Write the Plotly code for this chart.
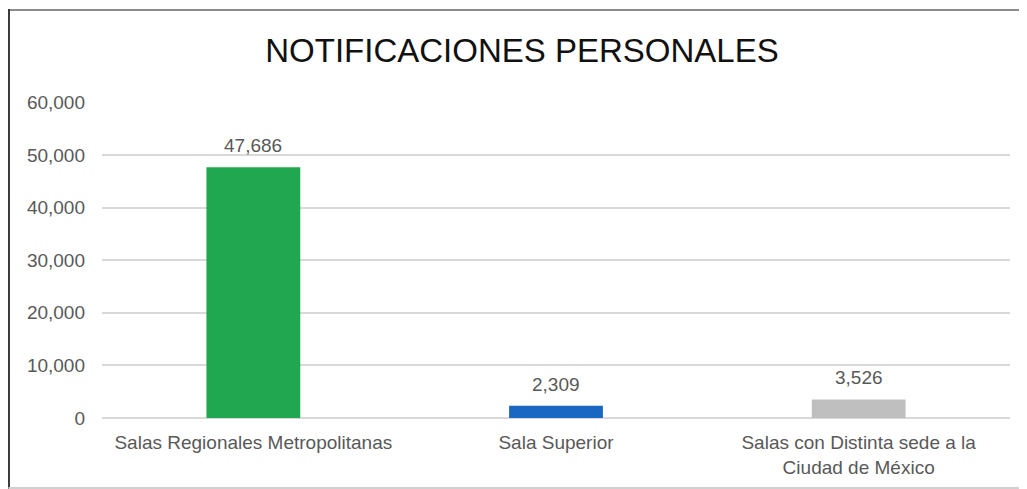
import plotly.graph_objects as go

categories = ["Salas Regionales Metropolitanas", "Sala Superior",
              "Salas con Distinta sede a la<br>Ciudad de México"]
values = [47686, 2309, 3526]
colors = ["#22A751", "#1967C1", "#BFBFBF"]
value_labels = [f"{v:,}" for v in values]
y_ticks = [0, 10000, 20000, 30000, 40000, 50000, 60000]
y_tick_labels = [f"{t:,}" for t in y_ticks]

FONT = "Liberation Sans, Arial, sans-serif"

fig = go.Figure(go.Bar(
    x=categories, y=values, marker_color=colors, marker_line_width=0,
    hoverinfo="x+y",
))

for c, v, t in zip(categories, values, value_labels):
    fig.add_annotation(x=c, y=v, text=t, showarrow=False, yanchor="bottom",
                       yshift=9, font=dict(family=FONT, size=19, color="#595959"))

fig.update_layout(
    width=1027, height=489,
    margin=dict(l=94, r=25, t=94, b=79),
    paper_bgcolor="white", plot_bgcolor="white",
    bargap=0.69,
    showlegend=False,
    title=dict(text="NOTIFICACIONES PERSONALES", x=(522 - 8) / 1027, xanchor="center",
               y=1 - 42 / 489, yanchor="middle", yref="container",
               font=dict(family=FONT, size=33, color="#111111")),
    xaxis=dict(tickfont=dict(family=FONT, size=19, color="#595959"),
               showgrid=False, showline=False, ticks="", ticklabelstandoff=11),
    yaxis=dict(range=[0, 60080], tickvals=y_ticks, ticktext=y_tick_labels,
               tickfont=dict(family=FONT, size=19, color="#595959"),
               showgrid=True, gridcolor="#D9D9D9", gridwidth=2,
               zeroline=True, zerolinecolor="#D9D9D9", zerolinewidth=2,
               showline=False, ticks="", ticklabelstandoff=16),
    shapes=[
        dict(type="line", xref="paper", yref="paper", x0=-0.103, x1=1.04,
             y0=1.291, y1=1.291, line=dict(color="#8C8C8C", width=2)),
        dict(type="line", xref="paper", yref="paper", x0=-0.103, x1=-0.103,
             y0=1.294, y1=-0.226, line=dict(color="#3A3A3A", width=3)),
        dict(type="line", xref="paper", yref="paper", x0=-0.103, x1=1.04,
             y0=-0.2215, y1=-0.2215, line=dict(color="#D0D0D0", width=2)),
    ],
)

fig.write_html("out.html")
